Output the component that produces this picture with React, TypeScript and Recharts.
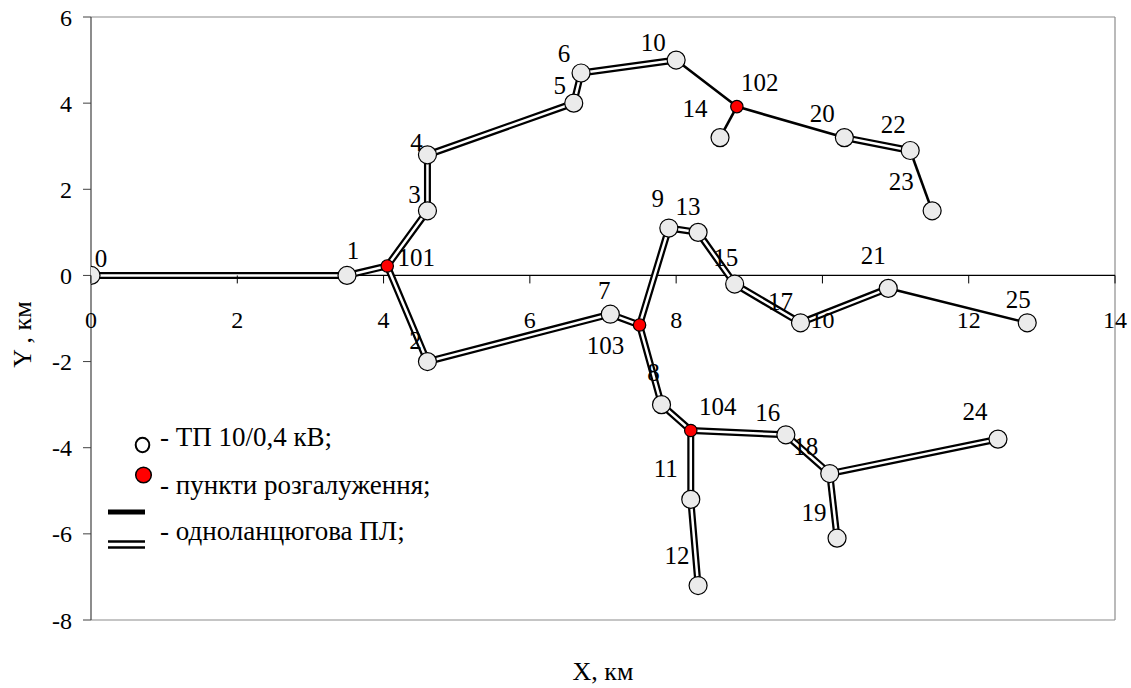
import {
  ComposedChart, Line, Scatter, XAxis, YAxis, ReferenceLine, Legend,
} from 'recharts';

const FONT = '"Liberation Serif", "Times New Roman", serif';

// ТП 10/0,4 кВ
const tpIds = ['0', '1', '2', '3', '4', '5', '6', '7', '8', '9', '10', '11', '12', '13', '14', '15', '16', '17', '18', '19', '20', '21', '22', '23', '24', '25'];
const tpX = [0, 3.5, 4.6, 4.6, 4.6, 6.6, 6.7, 7.1, 7.8, 7.9, 8.0, 8.2, 8.3, 8.3, 8.6, 8.8, 9.5, 9.7, 10.1, 10.2, 10.3, 10.9, 11.2, 11.5, 12.4, 12.8];
const tpY = [0, 0, -2.0, 1.5, 2.8, 4.0, 4.7, -0.9, -3.0, 1.1, 5.0, -5.2, -7.2, 1.0, 3.2, -0.2, -3.7, -1.1, -4.6, -6.1, 3.2, -0.3, 2.9, 1.5, -3.8, -1.1];

// пункти розгалуження
const branchIds = ['101', '102', '103', '104'];
const branchX = [4.05, 8.83, 7.5, 8.2];
const branchY = [0.22, 3.92, -1.15, -3.6];

// лінії (послідовності вузлів)
const doubleLines = [
  ['0', '1', '101', '3', '4', '5', '6', '10'],
  ['20', '22'],
  ['101', '2', '7', '103', '9', '13', '15', '17', '21'],
  ['103', '8', '104', '11', '12'],
  ['104', '16', '18', '24'],
  ['18', '19'],
];
const singleLines = [
  ['10', '102', '20'],
  ['102', '14'],
  ['22', '23'],
  ['21', '25'],
];

const xTicks = [0, 2, 4, 6, 8, 10, 12, 14];
const yTicks = [-8, -6, -4, -2, 0, 2, 4, 6];

// label offsets from node centre, px
const labelOffset: Record<string, [number, number]> = {
  '0': [10, -17], '1': [6, -25], '101': [29, -8], '3': [-13, -16], '4': [-11, -12],
  '5': [-14, -18], '6': [-17, -19], '10': [-23, -18], '102': [23, -24], '14': [-25, -29],
  '20': [-22, -24], '22': [-17, -26], '23': [-31, -29], '9': [-11, -30], '13': [-10, -26],
  '15': [-9, -27], '17': [-20, -21], '21': [-15, -33], '25': [-9, -23], '7': [-6, -24],
  '103': [-34, 21], '2': [-12, -21], '8': [-8, -32], '104': [27, -24], '11': [-25, -31],
  '12': [-21, -30], '16': [-18, -22], '18': [-24, -27], '19': [-23, -26], '24': [-23, -28],
};

const tpNodes = tpIds.map((id, i) => ({ id, x: tpX[i], y: tpY[i] }));
const branchNodes = branchIds.map((id, i) => ({ id, x: branchX[i], y: branchY[i] }));
const allNodes = [...tpNodes, ...branchNodes];
const byId = Object.fromEntries(allNodes.map((n) => [n.id, n]));
const toPts = (ids: string[]) => ids.map((id) => ({ x: byId[id].x, y: byId[id].y }));

const W = 1131;
const H = 688;
const M = { top: 17, right: 16, bottom: 0, left: 0 };
const X_AXIS_H = 68;
const PLOT_H = H - M.top - M.bottom - X_AXIS_H;
const zeroY = M.top + (PLOT_H * 6) / 14;

const XTick = ({ x, payload }: { x: number; payload: { value: number } }) => (
  <g>
    <line x1={x} x2={x} y1={zeroY} y2={zeroY + 8} stroke="#000" strokeWidth={1} />
    <text x={x} y={zeroY + 53} textAnchor="middle" fontSize={24} fontFamily={FONT} fill="#000">
      {payload.value}
    </text>
  </g>
);

const NodeLabel = (props: any) => {
  const { cx, cy, payload } = props;
  const [dx, dy] = labelOffset[payload.id] || [0, -20];
  return (
    <text x={cx + dx} y={cy + dy + 8.5} textAnchor="middle" fontSize={25} fontFamily={FONT} fill="#000">
      {payload.id}
    </text>
  );
};

const TpDot = (props: any) => (
  <circle cx={props.cx} cy={props.cy} r={9} fill="#ebebeb" stroke="#000" strokeWidth={1.2} />
);
const BranchDot = (props: any) => (
  <circle cx={props.cx} cy={props.cy} r={6.2} fill="#ff0000" stroke="#000" strokeWidth={1.2} />
);

const LegendBox = () => (
  <svg width={420} height={140} style={{ display: 'block' }}>
    <ellipse cx={42.5} cy={25} rx={6.8} ry={7.2} fill="#fff" stroke="#000" strokeWidth={2} />
    <text x={60} y={26} fontSize={27} fontFamily={FONT}>- ТП 10/0,4 кВ;</text>
    <ellipse cx={43.5} cy={55} rx={7.8} ry={7.8} fill="#ff0000" stroke="#000" strokeWidth={1.5} />
    <text x={60} y={74} fontSize={27} fontFamily={FONT}>- пункти розгалуження;</text>
    <line x1={8} x2={45} y1={92} y2={92} stroke="#000" strokeWidth={5} />
    <line x1={8} x2={45} y1={121.5} y2={121.5} stroke="#000" strokeWidth={2.7} />
    <line x1={8} x2={45} y1={127.5} y2={127.5} stroke="#000" strokeWidth={2.7} />
    <text x={60} y={120} fontSize={27} fontFamily={FONT}>- одноланцюгова ПЛ;</text>
  </svg>
);

export default function App() {
  return (
    <div style={{ position: 'absolute', left: 0, top: 0, background: '#fff' }}>
      <ComposedChart width={W} height={H} margin={M}>
        <XAxis
          type="number" dataKey="x" domain={[0, 14]} ticks={xTicks} height={X_AXIS_H}
          axisLine={false} tickLine={false} tickSize={0} tickMargin={0}
          tick={XTick as any} interval={0} allowDataOverflow
          label={{ value: 'X, км', position: 'insideBottom', offset: 8, fontSize: 26, fontFamily: FONT, fill: '#000' }}
        />
        <YAxis
          type="number" dataKey="y" domain={[-8, 6]} ticks={yTicks} width={91}
          axisLine={{ stroke: '#404040', strokeWidth: 1.2 }} tickLine={{ stroke: '#404040' }}
          tickSize={8} tickMargin={11} interval={0} allowDataOverflow
          tick={{ fontSize: 24, fontFamily: FONT, fill: '#000' }}
          label={{
            content: ({ viewBox }: any) => (
              <text
                x={22} y={viewBox.y + viewBox.height / 2 + 16}
                transform={`rotate(-90 22 ${viewBox.y + viewBox.height / 2 + 16})`}
                textAnchor="middle" dominantBaseline="central" fontSize={26} fontFamily={FONT} fill="#000"
              >
                Y , км
              </text>
            ),
          }}
        />
        <ReferenceLine y={6} stroke="#8c8c8c" strokeWidth={1.2} />
        <ReferenceLine y={-8} stroke="#8c8c8c" strokeWidth={1.2} />
        <ReferenceLine x={14} stroke="#8c8c8c" strokeWidth={1.2} />
        <ReferenceLine y={0} stroke="#000" strokeWidth={1.2} />

        <Scatter data={allNodes} shape={NodeLabel} isAnimationActive={false} legendType="none" />

        {doubleLines.map((ids, i) => (
          <Line
            key={`db${i}`} data={toPts(ids)} dataKey="y" type="linear" stroke="#000" strokeWidth={7}
            strokeLinejoin="round" dot={false} activeDot={false} isAnimationActive={false} legendType="none"
          />
        ))}
        {doubleLines.map((ids, i) => (
          <Line
            key={`dw${i}`} data={toPts(ids)} dataKey="y" type="linear" stroke="#fff" strokeWidth={2.5}
            strokeLinejoin="round" dot={false} activeDot={false} isAnimationActive={false} legendType="none"
          />
        ))}
        {singleLines.map((ids, i) => (
          <Line
            key={`s${i}`} data={toPts(ids)} dataKey="y" type="linear" stroke="#000" strokeWidth={2.6}
            strokeLinejoin="round" dot={false} activeDot={false} isAnimationActive={false} legendType="none"
          />
        ))}

        <Scatter data={tpNodes} shape={TpDot} isAnimationActive={false} legendType="none" />
        <Scatter data={branchNodes} shape={BranchDot} isAnimationActive={false} legendType="none" />

        <Legend
          layout="vertical" align="center" verticalAlign="middle"
          wrapperStyle={{ left: 100, top: 420, width: 420, height: 140 }}
          content={() => <LegendBox />}
        />
      </ComposedChart>
    </div>
  );
}
